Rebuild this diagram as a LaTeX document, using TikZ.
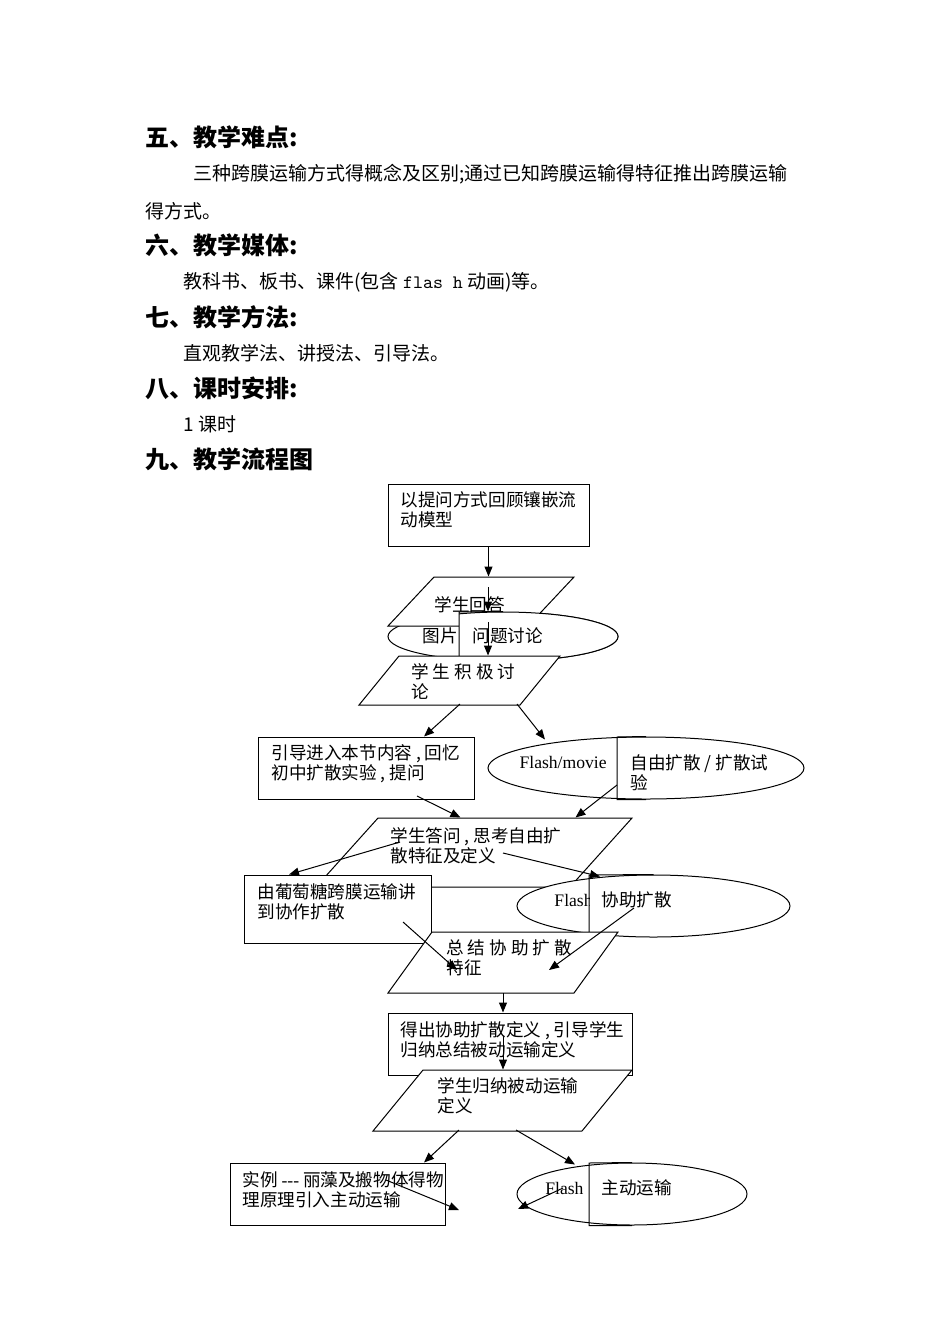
\documentclass[tikz,border=0pt]{standalone}
\usepackage{fontspec}
\setmainfont{Noto Sans CJK SC}
\newfontfamily\tnr{Liberation Serif}
\usetikzlibrary{arrows.meta, positioning, shapes.geometric, calc}

\begin{document}
\begin{tikzpicture}[
        x=0.5pt, y=-0.5pt,
        >={Triangle[length=5pt, width=4pt]},
        head/.style={anchor=west, inner sep=0pt, font=\fontsize{12}{14}\selectfont\bfseries},
        body/.style={anchor=west, inner sep=0pt, font=\fontsize{9.5}{12}\selectfont},
        txt/.style={anchor=west, inner sep=0pt, align=left, font=\fontsize{8.8}{10}\selectfont},
        box/.style={draw, fill=white, line width=0.5pt, inner sep=0pt},
        para/.style={draw, fill=white, line width=0.5pt, inner sep=0pt, transform shape},
        ell/.style={ellipse, draw, fill=white, line width=0.5pt, inner sep=0pt},
        arr/.style={->, line width=0.5pt}
    ]
        \useasboundingbox (0,0) rectangle (950,1344);

        \node[head] (h5) at (145,137) {五、教学难点:};
        \node[body] (b5a) at (193,174) {三种跨膜运输方式得概念及区别;通过已知跨膜运输得特征推出跨膜运输};
        \node[body] (b5b) at (145,211) {得方式。};
        \node[head] (h6) at (145,245) {六、教学媒体:};
        \node[body] (b6) at (183,282) {教科书、板书、课件(包含 {\ttfamily flas h} 动画)等。};
        \node[head] (h7) at (145,317) {七、教学方法:};
        \node[body] (b7) at (183,353) {直观教学法、讲授法、引导法。};
        \node[head] (h8) at (145,388) {八、课时安排:};
        \node[body] (b8) at (183,424) {1 课时};
        \node[head] (h9) at (145,459) {九、教学流程图};

        \node[box, minimum width=100.5pt, minimum height=31pt] (recall) at (488.5,515) {};
        \node[txt] (recall-t) at (400,510) {以提问方式回顾镶嵌流\\动模型};

        \node[ell, minimum width=115pt, minimum height=24.5pt] (media) at (503,636.5) {};
        \begin{scope}[shift={(481,601.5)}, xslant=0.939]
            \node[para, minimum width=70pt, minimum height=24.5pt] (answer) {};
        \end{scope}
        \node[txt] (answer-t) at (434,605) {学生回答};
        \begin{scope}
            \clip (459,600) rectangle (640,670);
            \node[ell, minimum width=115pt, minimum height=24.5pt] (media-r) at (media.center) {};
        \end{scope}
        \coordinate (d1) at (459,612);
        \draw[line width=0.5pt] (media.north) -- (d1) -- (d1 |- media.south);
        \node[txt] (media-l) at (422,636) {图片};
        \node[txt] (media-t) at (472,636) {问题讨论};

        \begin{scope}[shift={(459.5,680.5)}, xslant=0.816]
            \node[para, minimum width=80.5pt, minimum height=24.5pt] (talk) {};
        \end{scope}
        \node[txt] (talk-t) at (411,682) {学 生 积 极 讨\\论};

        \node[box, minimum width=108pt, minimum height=31pt] (intro) at (366,768) {};
        \node[txt] (intro-t) at (271,763.5) {引导进入本节内容 , 回忆\\初中扩散实验 , 提问};
        \node[ell, minimum width=158pt, minimum height=31pt] (movie) at (646,768) {};
        \coordinate (d2) at (617,737);
        \draw[line width=0.5pt] (movie.north) -- (d2) -- (d2 |- movie.south) -- (movie.south);
        \node[txt, anchor=east] (movie-l) at (607,762) {\tnr Flash/movie};
        \node[txt] (movie-t) at (630,772.5) {自由扩散 / 扩散试\\验};

        \begin{scope}[shift={(474,852.5)}, xslant=0.899]
            \node[para, minimum width=127pt, minimum height=34.5pt] (reply) {};
        \end{scope}
        \node[txt] (reply-t) at (390,845.5) {学生答问 , 思考自由扩\\散特征及定义};
        \node[box, minimum width=93.5pt, minimum height=34pt] (glucose) at (337.5,909) {};
        \node[txt] (glucose-t) at (257,901.5) {由葡萄糖跨膜运输讲\\到协作扩散};
        \node[ell, minimum width=136.5pt, minimum height=31pt] (flashA) at (653.5,906) {};
        \coordinate (d3) at (589,875);
        \begin{scope}
            \clip (520,880) rectangle (589,920);
            \node[txt, anchor=east] (flashA-l) at (593,900) {\tnr Flash};
        \end{scope}
        \draw[line width=0.5pt] (flashA.north) -- (d3) -- (d3 |- flashA.south);
        \node[txt] (flashA-t) at (601,900) {协助扩散};

        \begin{scope}[shift={(503,962.5)}, xslant=0.721]
            \node[para, minimum width=93pt, minimum height=30.5pt] (summary) {};
        \end{scope}
        \node[txt] (summary-t) at (446,958) {总 结 协 助 扩 散\\特征};

        \node[box, minimum width=122pt, minimum height=31pt] (define) at (510,1044) {};
        \node[txt] (define-t) at (400,1040) {得出协助扩散定义 , 引导学生\\归纳总结被动运输定义};
        \begin{scope}[shift={(502.5,1100.5)}, xslant=0.820]
            \node[para, minimum width=104.5pt, minimum height=30.5pt] (passive) {};
        \end{scope}
        \node[txt] (passive-t) at (437,1096) {学生归纳被动运输\\定义};

        \node[box, minimum width=107.5pt, minimum height=31pt] (example) at (337.5,1194) {};
        \node[txt] (example-t) at (242,1190) {实例 {\tnr -{}-{}-} 丽藻及搬物体得物\\理原理引入主动运输};
        \node[ell, minimum width=115pt, minimum height=31pt] (flashB) at (632,1194) {};
        \coordinate (d4) at (589,1163);
        \draw[line width=0.5pt] (flashB.north) -- (d4) -- (d4 |- flashB.south) -- (flashB.south);
        \node[txt] (flashB-l) at (545,1188) {\tnr Flash};
        \node[txt] (flashB-t) at (601,1188) {主动运输};

        \coordinate (s2) at (488,587);
        \coordinate (s3) at (488,622);
        \coordinate (s4) at (460,704);
        \coordinate (s5) at (517,704);
        \coordinate (s6) at (417,796);
        \coordinate (s7) at (617,785);
        \coordinate (s8) at (400,842);
        \coordinate (s9) at (503,853);
        \coordinate (s10) at (403,922);
        \coordinate (e10) at (457,970);
        \coordinate (s11) at (634,908);
        \coordinate (e11) at (549,970);
        \coordinate (s12) at (503,993);
        \coordinate (s13) at (503,1036);
        \coordinate (s14) at (459,1130);
        \coordinate (s15) at (516,1130);
        \coordinate (s16) at (386,1180);
        \coordinate (e16) at (459,1210);
        \coordinate (s17) at (563,1188);
        \coordinate (e17) at (518,1209);

        \draw[arr] (recall.south) -- (recall.south |- answer.north);
        \draw[arr] (s2) -- (s2 |- media.north);
        \draw[arr] (s3) -- (s3 |- talk.north);
        \draw[arr] (s4) -- ($(intro.north)+(58,0)$);
        \draw[arr] (s5) -- ($(movie.north)+(-101,3)$);
        \draw[arr] (s6) -- ($(reply.north)+(-45,0)$);
        \draw[arr] (s7) -- ($(reply.north)+(70,0)$);
        \draw[arr] (s8) -- ($(glucose.north)+(-48.5,0)$);
        \draw[arr] (s9) -- ($(flashA.north)+(-53.5,2)$);
        \draw[arr] (s10) -- (e10);
        \draw[arr] (s11) -- (e11);
        \draw[arr] (s12) -- (s12 |- define.north);
        \draw[arr] (s13) -- (s13 |- passive.north);
        \draw[arr] (s14) -- ($(example.north)+(86.5,0)$);
        \draw[arr] (s15) -- ($(flashB.north)+(-57,2)$);
        \draw[arr] (s16) -- (e16);
        \draw[arr] (s17) -- (e17);
    \end{tikzpicture}
\end{document}
